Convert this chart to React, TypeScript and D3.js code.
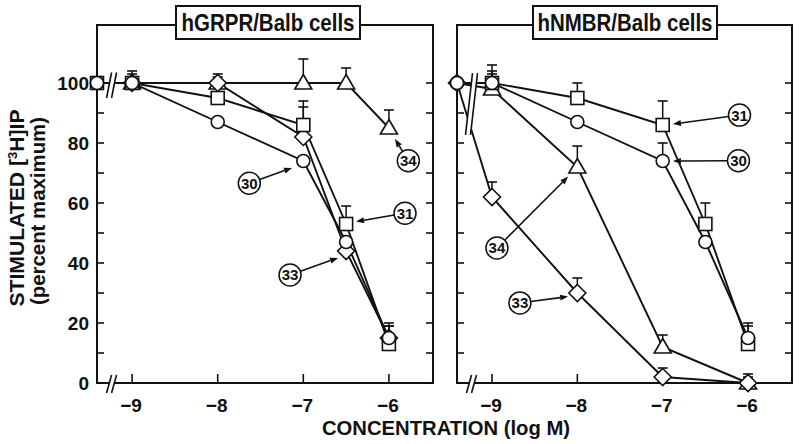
import React from 'react';
import * as d3 from 'd3';

// ---------- data ----------
const CTRL = -9.41; // position of the control (no peptide) point, left of the axis break
const CONC = [CTRL, -9, -8, -7, -6.5, -6];
const X_TICKS = [-9, -8, -7, -6];
const Y_MAJOR = [0, 20, 40, 60, 80, 100];
const Y_MINOR = [10, 30, 50, 70, 90];
const BREAK_X = -9.24;

// hGRPR/Balb cells
const grpr30 = [100, 100, 87, 74, 47, 15];
const grpr30Err = [null, 103, null, null, null, 19];
const grpr31 = [100, 100, 95, 86, 53, 13];
const grpr31Err = [null, 104, 100, 94, 59, 20];
const grpr33 = [100, 100, 100, 82, 44, 15];
const grpr33Err = [null, null, 103, 92, null, 19];
const grpr34 = [100, 100, 100, 100, 100, 85];
const grpr34Err = [null, null, 102, 108, 105, 91];
const grprCtrlShown = ['circle', 'square'];

// hNMBR/Balb cells
const nmbr30 = [100, 100, 87, 74, 47, 15];
const nmbr30Err = [null, 104, null, 80, null, 19];
const nmbr31 = [100, 100, 95, 86, 53, 13];
const nmbr31Err = [null, 106, 100, 94, 60, 20];
const nmbr33 = [100, 62, 30, 2, null, 0];
const nmbr33Err = [null, 67, 35, 5, null, 3];
const nmbr34 = [100, 98, 72, 12, null, 0];
const nmbr34Err = [null, 103, 79, 16, null, 2];
const nmbrCtrlShown = ['diamond', 'circle'];

// annotations: compound number, label centre (logM, %), arrow tip (logM, %)
const grprLabels = ['34', '30', '31', '33'];
const grprLabelPos = [[-5.773, 74.1], [-7.631, 66.6], [-5.812, 56.6], [-7.155, 36]];
const grprArrowTip = [[-5.929, 81.3], [-7.132, 71.7], [-6.384, 53.8], [-6.595, 41.7]];

const nmbrLabels = ['31', '30', '34', '33'];
const nmbrLabelPos = [[-6.1, 89.3], [-6.112, 74.1], [-8.942, 45], [-8.673, 26.7]];
const nmbrArrowTip = [[-6.88, 86.3], [-6.88, 74], [-8.108, 68.8], [-8.108, 28.8]];

const panelTitles = ['hGRPR/Balb cells', 'hNMBR/Balb cells'];

// ---------- layout ----------
const W = 800, H = 444;
const TOP = 25, BOTTOM = 383;
const FONT = 'Liberation Sans, Arial, Helvetica, sans-serif';

type Series = { shape: string; values: (number | null)[]; err: (number | null)[] };

const panels = [
  {
    title: panelTitles[0], x0: 97, x1: 433, titleBox: [176, 360], titleLen: 173,
    series: [
      { shape: 'triangle', values: grpr34, err: grpr34Err },
      { shape: 'diamond', values: grpr33, err: grpr33Err },
      { shape: 'square', values: grpr31, err: grpr31Err },
      { shape: 'circle', values: grpr30, err: grpr30Err },
    ] as Series[],
    ctrlShown: grprCtrlShown,
    labels: grprLabels, labelPos: grprLabelPos, tips: grprArrowTip,
    topBreak: [95, 103.5], topBreakDx: 5,
    yLabels: true,
  },
  {
    title: panelTitles[1], x0: 457, x1: 792, titleBox: [533, 717], titleLen: 175,
    series: [
      { shape: 'triangle', values: nmbr34, err: nmbr34Err },
      { shape: 'diamond', values: nmbr33, err: nmbr33Err },
      { shape: 'square', values: nmbr31, err: nmbr31Err },
      { shape: 'circle', values: nmbr30, err: nmbr30Err },
    ] as Series[],
    ctrlShown: nmbrCtrlShown,
    labels: nmbrLabels, labelPos: nmbrLabelPos, tips: nmbrArrowTip,
    topBreak: [82.7, 103.3], topBreakDx: 7,
    yLabels: false,
  },
];

const yScale = d3.scaleLinear().domain([0, 119.33]).range([BOTTOM, TOP]);

function Marker({ shape, x, y }: { shape: string; x: number; y: number }) {
  const common = { fill: '#fff', stroke: '#111', strokeWidth: 1.6 };
  if (shape === 'circle') return <circle cx={x} cy={y} r={6.5} {...common} />;
  if (shape === 'square') return <rect x={x - 6.5} y={y - 6.5} width={13} height={13} {...common} />;
  if (shape === 'diamond')
    return <path d={`M${x},${y - 8.5}L${x + 8.5},${y}L${x},${y + 8.5}L${x - 8.5},${y}Z`} {...common} />;
  return <path d={`M${x},${y - 8.5}L${x + 8.5},${y + 6}L${x - 8.5},${y + 6}Z`} {...common} />;
}

function BreakMark({ x, yTop, yBot, dx }: { x: number; yTop: number; yBot: number; dx: number }) {
  const gap = 5;
  const x1b = x - dx / 2 - gap / 2, x1t = x + dx / 2 - gap / 2;
  const x2b = x - dx / 2 + gap / 2, x2t = x + dx / 2 + gap / 2;
  return (
    <g>
      <path d={`M${x1b},${yBot}L${x1t},${yTop}L${x2t},${yTop}L${x2b},${yBot}Z`} fill="#fff" stroke="none" />
      <line x1={x1b} y1={yBot} x2={x1t} y2={yTop} stroke="#111" strokeWidth={1.6} />
      <line x1={x2b} y1={yBot} x2={x2t} y2={yTop} stroke="#111" strokeWidth={1.6} />
    </g>
  );
}

function Panel({ p }: { p: (typeof panels)[number] }) {
  const x = d3.scaleLinear().domain([CTRL, -5.485]).range([p.x0, p.x1]);
  const line = d3.line<[number, number]>().x((d) => x(d[0])).y((d) => yScale(d[1]));
  const tickLen = 7;
  const xTickLen = 9;
  return (
    <g>
      {/* data lines */}
      {p.series.map((s, i) => {
        const pts = CONC.map((c, j) => [c, s.values[j]] as [number, number | null]).filter(
          (d) => d[1] !== null
        ) as [number, number][];
        return <path key={i} d={line(pts) || ''} fill="none" stroke="#111" strokeWidth={1.9} />;
      })}
      {/* axis break on the data lines */}
      <BreakMark
        x={x(BREAK_X)}
        yTop={yScale(p.topBreak[1])}
        yBot={yScale(p.topBreak[0])}
        dx={p.topBreakDx}
      />
      {/* frame */}
      <rect x={p.x0} y={TOP} width={p.x1 - p.x0} height={BOTTOM - TOP} fill="none" stroke="#111" strokeWidth={2} />
      {/* y ticks both sides */}
      {[...Y_MAJOR, ...Y_MINOR].map((v) => (
        <g key={v}>
          <line x1={p.x0} x2={p.x0 + tickLen} y1={yScale(v)} y2={yScale(v)} stroke="#111" strokeWidth={1.6} />
          <line x1={p.x1} x2={p.x1 - tickLen} y1={yScale(v)} y2={yScale(v)} stroke="#111" strokeWidth={1.6} />
        </g>
      ))}
      {/* x ticks */}
      {X_TICKS.map((v) => (
        <g key={v}>
          <line x1={x(v)} x2={x(v)} y1={BOTTOM} y2={BOTTOM - xTickLen} stroke="#111" strokeWidth={1.6} />
          <text
            x={x(v) - 1}
            y={412}
            textAnchor="middle"
            fontFamily={FONT}
            fontWeight="bold"
            fontSize={19}
            fill="#111"
          >
            {`\u2212${Math.abs(v)}`}
          </text>
        </g>
      ))}
      {/* bottom axis break */}
      <BreakMark x={x(BREAK_X)} yTop={BOTTOM - 8} yBot={BOTTOM + 10} dx={5} />
      {/* y labels */}
      {p.yLabels &&
        Y_MAJOR.map((v) => (
          <text
            key={v}
            x={89}
            y={yScale(v) + 7}
            textAnchor="end"
            fontFamily={FONT}
            fontWeight="bold"
            fontSize={19}
            fill="#111"
          >
            {v}
          </text>
        ))}
      {/* error bars */}
      {p.series.map((s, i) =>
        CONC.map((c, j) => {
          const e = s.err[j];
          const v = s.values[j];
          if (e === null || v === null) return null;
          const cx = x(c);
          return (
            <g key={`${i}-${j}`}>
              <line x1={cx} x2={cx} y1={yScale(v)} y2={yScale(e)} stroke="#111" strokeWidth={1.5} />
              <line x1={cx - 5} x2={cx + 5} y1={yScale(e)} y2={yScale(e)} stroke="#111" strokeWidth={1.6} />
            </g>
          );
        })
      )}
      {/* markers */}
      {p.series.map((s, i) =>
        CONC.map((c, j) => {
          const v = s.values[j];
          if (v === null) return null;
          if (j === 0 && !p.ctrlShown.includes(s.shape)) return null;
          return <Marker key={`${i}-${j}`} shape={s.shape} x={x(c)} y={yScale(v)} />;
        })
      )}
      {p.series
        .filter((s) => s.shape === 'circle' && p.ctrlShown.includes('circle'))
        .map((s, i) => (
          <Marker key={`c${i}`} shape="circle" x={x(CONC[0])} y={yScale(s.values[0] as number)} />
        ))}
      {/* annotations */}
      {p.labels.map((lab, i) => {
        const cx = x(p.labelPos[i][0]);
        const cy = yScale(p.labelPos[i][1]);
        const tx = x(p.tips[i][0]);
        const ty = yScale(p.tips[i][1]);
        const ang = Math.atan2(ty - cy, tx - cx);
        const r = 11;
        const sx = cx + Math.cos(ang) * r;
        const sy = cy + Math.sin(ang) * r;
        const hl = 8, hw = 3;
        const bx = tx - Math.cos(ang) * hl;
        const by = ty - Math.sin(ang) * hl;
        const px = -Math.sin(ang) * hw, py = Math.cos(ang) * hw;
        return (
          <g key={lab}>
            <line x1={sx} y1={sy} x2={bx} y2={by} stroke="#111" strokeWidth={1.6} />
            <path d={`M${tx},${ty}L${bx + px},${by + py}L${bx - px},${by - py}Z`} fill="#111" />
            <circle cx={cx} cy={cy} r={r} fill="#fff" stroke="#111" strokeWidth={1.5} />
            <text
              x={cx}
              y={cy + 5.5}
              textAnchor="middle"
              fontFamily={FONT}
              fontWeight="bold"
              fontSize={15}
              fill="#111"
            >
              {lab}
            </text>
          </g>
        );
      })}
      {/* title box */}
      <rect
        x={p.titleBox[0]}
        y={6}
        width={p.titleBox[1] - p.titleBox[0]}
        height={33}
        fill="#fff"
        stroke="#111"
        strokeWidth={2}
      />
      <text
        x={(p.titleBox[0] + p.titleBox[1]) / 2}
        y={31}
        textAnchor="middle"
        fontFamily={FONT}
        fontWeight="bold"
        fontSize={23}
        textLength={p.titleLen}
        lengthAdjust="spacingAndGlyphs"
        fill="#111"
      >
        {p.title}
      </text>
    </g>
  );
}

export default function App() {
  return (
    <svg
      width={W}
      height={H}
      viewBox={`0 0 ${W} ${H}`}
      style={{ position: 'absolute', left: 0, top: 0, background: '#fff' }}
    >
      <rect x={0} y={0} width={W} height={H} fill="#fff" />
      {panels.map((p, i) => (
        <Panel key={i} p={p} />
      ))}
      <text
        transform="translate(24,208) rotate(-90)"
        textAnchor="middle"
        fontFamily={FONT}
        fontWeight="bold"
        fontSize={19.5}
        fill="#111"
        textLength={197}
        lengthAdjust="spacingAndGlyphs"
      >
        STIMULATED [<tspan fontSize={12} dy={-7}>3</tspan>
        <tspan dy={7}>H]IP</tspan>
      </text>
      <text
        transform="translate(45,211) rotate(-90)"
        textAnchor="middle"
        fontFamily={FONT}
        fontWeight="bold"
        fontSize={19.5}
        fill="#111"
        textLength={188}
        lengthAdjust="spacingAndGlyphs"
      >
        (percent maximum)
      </text>
      <text
        x={446}
        y={435}
        textAnchor="middle"
        fontFamily={FONT}
        fontWeight="bold"
        fontSize={20.5}
        fill="#111"
        textLength={248}
        lengthAdjust="spacingAndGlyphs"
      >
        CONCENTRATION (log M)
      </text>
    </svg>
  );
}
